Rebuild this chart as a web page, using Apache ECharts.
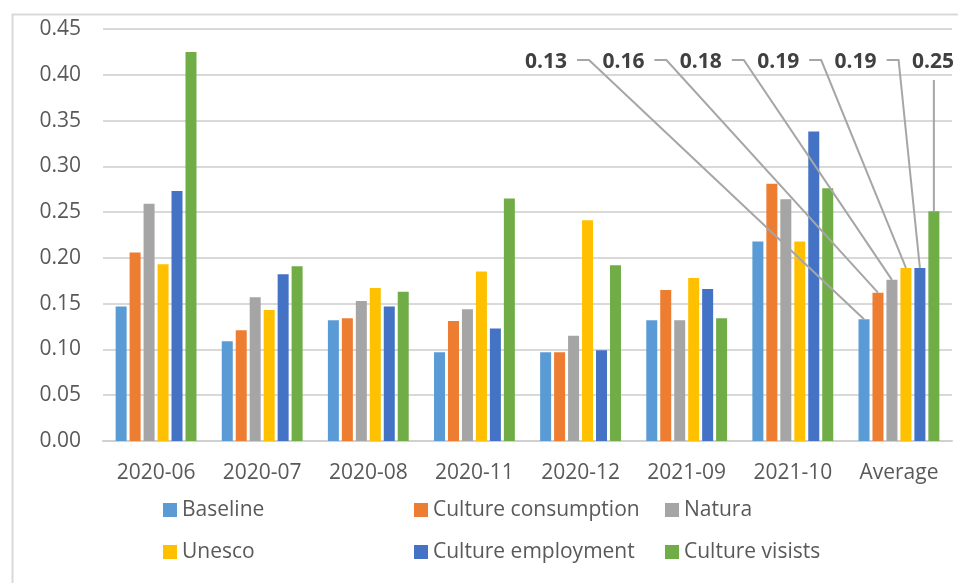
<!DOCTYPE html>
<html>
<head>
<meta charset="utf-8">
<script src="https://cdn.jsdelivr.net/npm/echarts@6/dist/echarts.min.js"></script>
<style>
html,body{margin:0;padding:0;background:#fff;}
#chart{width:958px;height:583px;}
</style>
</head>
<body>
<div id="chart"></div>
<script>
const categories = ['2020-06','2020-07','2020-08','2020-11','2020-12','2021-09','2021-10','Average'];
const seriesNames = ['Baseline','Culture consumption','Natura','Unesco','Culture employment','Culture visists'];
const baseline           = [0.147,0.109,0.132,0.097,0.097,0.132,0.218,0.133];
const cultureConsumption = [0.206,0.121,0.134,0.131,0.097,0.165,0.281,0.162];
const natura             = [0.259,0.157,0.153,0.144,0.115,0.132,0.264,0.176];
const unesco             = [0.193,0.143,0.167,0.185,0.241,0.178,0.218,0.189];
const cultureEmployment  = [0.273,0.182,0.147,0.123,0.099,0.166,0.338,0.189];
const cultureVisits      = [0.425,0.191,0.163,0.265,0.192,0.134,0.276,0.251];
const yTicks = [0,0.05,0.10,0.15,0.20,0.25,0.30,0.35,0.40,0.45];

const colors = ['#5B9BD5','#ED7D31','#A5A5A5','#FFC000','#4472C4','#70AD47'];
const allSeries = [baseline,cultureConsumption,natura,unesco,cultureEmployment,cultureVisits];
const avgIndex = categories.length - 1;

const BW = 11, GAP = 0.27;
const FONT = '"Open Sans"';

const barSeries = allSeries.map((d, k) => ({
  name: seriesNames[k],
  type: 'bar',
  data: d,
  barWidth: BW,
  barGap: (GAP*100) + '%',
  itemStyle: { color: colors[k] },
  z: 2
}));

const labelData = allSeries.map((d, k) => [avgIndex, d[avgIndex], k]);

const leaderSeries = {
  type: 'custom',
  name: 'avgLabels',
  data: labelData,
  z: 10,
  silent: true,
  renderItem: function (params, api) {
    const i = api.value(2);
    const v = api.value(1);
    const pt = api.coord([api.value(0), v]);
    const cs = params.coordSys;
    const n = seriesNames.length;
    const widthSum = n * BW * (1 + GAP) - BW * GAP;
    const barCx = pt[0] - widthSum / 2 + i * BW * (1 + GAP) + BW / 2;
    const labelRight = cs.x + cs.width + 2 - (n - 1 - i) * 77.4;
    const ly = cs.y + 33;
    let points;
    if (i < n - 1) {
      points = [[labelRight + 10, ly - 2], [labelRight + 22, ly - 2], [barCx, pt[1]]];
    } else {
      points = [[barCx, ly + 18], [barCx, pt[1]]];
    }
    return {
      type: 'group',
      children: [
        { type: 'polyline', shape: { points: points }, style: { stroke: '#A6A6A6', lineWidth: 2, fill: null } },
        { type: 'text', x: labelRight, y: ly,
          style: { text: v.toFixed(2), fill: '#404040', font: 'bold 21px ' + FONT,
                   align: 'right', verticalAlign: 'middle', textAlign: 'right', textVerticalAlign: 'middle' } }
      ]
    };
  }
};

const legendBase = {
  orient: 'vertical',
  top: 493,
  itemWidth: 14,
  itemHeight: 14,
  itemGap: 18,
  icon: 'rect',
  textStyle: { color: '#595959', fontSize: 21, fontFamily: FONT, lineHeight: 24 }
};

const option = {
  animation: false,
  backgroundColor: '#fff',
  textStyle: { fontFamily: FONT },
  color: colors,
  graphic: [{
    type: 'rect', left: 10, top: 12, silent: true,
    shape: { width: 960, height: 600 },
    style: { fill: null, stroke: '#D9D9D9', lineWidth: 2 }
  }],
  grid: { left: 103, right: 6, top: 29, bottom: 142, containLabel: false },
  legend: [
    Object.assign({}, legendBase, { left: 158, data: [seriesNames[0], seriesNames[3]] }),
    Object.assign({}, legendBase, { left: 409, data: [seriesNames[1], seriesNames[4]] }),
    Object.assign({}, legendBase, { left: 660, data: [seriesNames[2], seriesNames[5]] })
  ],
  xAxis: {
    type: 'category',
    data: categories,
    axisTick: { show: false },
    axisLine: { show: true, lineStyle: { color: '#D0D0D0', width: 2 } },
    axisLabel: { color: '#595959', fontSize: 21, fontFamily: FONT, margin: 22 }
  },
  yAxis: {
    type: 'value',
    min: yTicks[0],
    max: yTicks[yTicks.length - 1],
    interval: 0.05,
    axisLine: { show: false },
    axisTick: { show: false },
    splitLine: { lineStyle: { color: '#D9D9D9', width: 2 } },
    axisLabel: { color: '#595959', fontSize: 21, fontFamily: FONT, margin: 22,
                 formatter: v => v.toFixed(2) }
  },
  series: barSeries.concat([leaderSeries])
};

const chart = echarts.init(document.getElementById('chart'), null, { renderer: 'canvas' });
chart.setOption(option);
</script>
</body>
</html>
